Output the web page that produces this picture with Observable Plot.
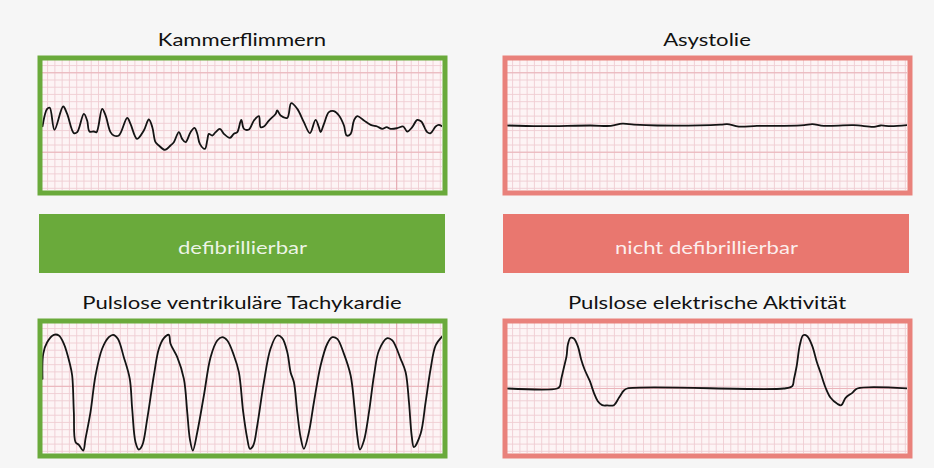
<!DOCTYPE html>
<html><head><meta charset="utf-8">
<script src="https://cdn.jsdelivr.net/npm/d3@7"></script>
<script src="https://cdn.jsdelivr.net/npm/@observablehq/plot@0.6"></script>
<style>
html,body{margin:0;padding:0;background:#f6f6f6;}
#root{position:relative;width:934px;height:468px;overflow:hidden;background:#f6f6f6;font-family:Lato,"Open Sans",sans-serif;}
.title{position:absolute;text-align:center;font-size:17px;line-height:17px;color:#111;transform:scaleX(1.3);transform-origin:center;white-space:nowrap;}
.panel{position:absolute;}
.panel svg{display:block;}
</style></head><body><div id="root"></div>
<script>
// Titles of the four ECG strips
const titles = ["Kammerflimmern", "Asystolie", "Pulslose ventrikuläre Tachykardie", "Pulslose elektrische Aktivität"];
// Labels of the two classification bars
const categories = ["defibrillierbar", "nicht defibrillierbar"];

// Traces: [time in small boxes, amplitude in small boxes]
const kammerflimmern = [
  [0,-0.1],[0.64,2.3],[1.0,2.45],[1.65,-0.6],[2.84,2.63],[3.39,1.6],[4.31,-1.06],[4.77,-0.92],
  [5.69,1.6],[6.14,0.69],[6.46,-0.83],[7.06,-0.83],[7.43,-0.92],[8.2,2.3],[8.67,1.39],[9.35,-0.92],
  [9.8,-1.39],[10.5,-1.39],[11.65,1.06],[12.1,0.23],[13.0,-1.85],[13.93,-0.69],[14.62,0.83],[15.1,-0.23],
  [15.54,-2.31],[16.0,-2.77],[16.83,-3.37],[17.6,-2.77],[18.06,-2.31],[18.75,-0.92],[19.2,-1.85],[19.67,-2.31],
  [20.36,-0.92],[20.9,-0.32],[21.28,-1.15],[21.64,-2.54],[22.33,-3.23],[22.65,-2.08],[22.88,-1.15],[23.34,-1.39],
  [23.8,-0.92],[24.39,-0.46],[24.94,-1.15],[25.77,-1.71],[26.32,-1.15],[26.78,-0.92],[27.33,0.78],[27.7,-0.46],
  [28.38,-0.55],[29.07,0.69],[29.75,1.29],[29.99,-0.23],[30.44,-0.14],[31.13,0.69],[32.05,1.6],[32.27,2.08],
  [32.74,1.39],[33.66,1.06],[34.2,3.09],[35.03,2.3],[35.94,0.46],[36.77,-1.06],[37.55,0.78],[38.0,-0.23],
  [38.24,-0.92],[38.7,0.23],[39.38,1.85],[40.07,1.99],[40.76,1.39],[41.45,0],[41.82,-1.39],[42.37,-1.15],
  [42.82,0.69],[43.28,1.29],[44.2,0.69],[45.12,0.09],[46.03,-0.14],[46.72,-0.46],[47.32,-0.23],[47.87,-0.46],
  [48.78,-0.37],[49.6,-0.14],[50.15,-0.83],[50.84,-0.23],[51.53,0.78],[52.08,0.55],[52.9,-0.92],[53.37,-1.06],
  [54.05,-0.14],[54.5,0.09],[55,-0.14]
];
const asystolie = [
  [0,0],[4.5,-0.1],[11.4,0],[14.2,-0.05],[15.8,0.25],[17.4,0.12],[20.6,0],[29.3,0.12],[30.2,0.2],
  [31.8,-0.15],[34.3,-0.05],[38.0,-0.05],[40.8,0.05],[41.9,0.2],[43.5,-0.05],[47.6,0.05],[50.4,-0.2],
  [51.3,0],[52.7,-0.1],[55,0.05]
];
const tachykardie = [
  [0,1.34],[0.1,4.8],[0.64,6.4],[1.56,7.43],[2.25,7.34],[2.93,6.2],[3.76,3.42],[4.08,1.8],[4.31,-3.28],
  [4.54,-7.43],[5.0,-7.8],[5.6,-8.59],[5.91,-6.97],[6.6,-3.28],[7.29,1.8],[8.2,5.5],[9.12,7.1],[9.72,7.43],
  [10.36,6.88],[11.18,4.34],[12.0,1.34],[12.33,-2.81],[12.79,-7.43],[13.25,-8.45],[13.71,-7.89],[14.4,-4.2],
  [15.31,1.8],[16.0,5.5],[16.69,6.97],[17.37,7.43],[17.6,6.2],[18.53,4.34],[19.44,1.34],[19.9,-3.28],
  [20.26,-6.97],[20.67,-8.59],[21.28,-6.05],[22.19,-0.97],[23.11,4.34],[24.03,6.65],[24.72,7.1],[25.41,6.65],
  [26.32,4.57],[27.0,2.26],[27.6,-3.28],[28.16,-6.97],[28.52,-8.35],[28.98,-7.89],[29.53,-5.12],[30.44,0.87],
  [31.35,5.5],[32.27,7.34],[32.96,6.97],[33.66,5.03],[34.11,2.26],[34.57,0.87],[35.03,-3.28],[35.49,-6.75],
  [35.94,-8.35],[36.63,-6.05],[37.32,-1.9],[38.24,3.19],[39.16,6.2],[39.85,7.1],[40.53,6.88],[41.45,4.8],
  [42.37,1.8],[42.92,-2.81],[43.28,-6.51],[43.65,-8.45],[44.2,-7.2],[44.89,-3.28],[45.58,1.8],[46.26,5.26],
  [47.41,6.97],[48.1,6.65],[49.24,4.11],[49.93,2.26],[50.39,-1.9],[50.76,-6.51],[51.07,-8.13],[51.99,-6.27],
  [52.68,-1.9],[53.37,2.73],[54.06,5.96],[55,7.24]
];
const pea = [
  [0,0],[6.83,0],[7.2,0.32],[7.38,1.25],[7.75,2.87],[8.12,4.48],[8.3,6.09],[8.67,7.02],[9.12,6.92],
  [9.67,5.86],[10.13,4.02],[10.6,2.63],[11.33,1.01],[11.88,-0.6],[12.42,-1.76],[13.02,-2.31],[13.71,-2.35],
  [14.63,-2.31],[15.32,-1.29],[16.0,-0.28],[16.46,0],[38.0,0],[39.16,0.32],[39.38,1.25],[39.75,3.05],
  [40.21,6.09],[40.67,7.38],[41.22,7.24],[41.91,5.86],[42.5,3.78],[43.05,2.17],[43.74,0.1],[44.43,-1.29],
  [45.35,-2.12],[45.9,-2.31],[46.49,-1.29],[47.41,-0.6],[48.1,0],[55,0]
];

const GREEN = "#6aaa3b", RED = "#e9817b", BAR_RED = "#e9776f";
const root = document.getElementById("root");

function addTitle(text, left, top) {
  const d = document.createElement("div");
  d.className = "title";
  d.style.left = left + "px"; d.style.top = top + "px"; d.style.width = "410px";
  d.textContent = text;
  root.appendChild(d);
}

function addPanel(series, color, majorX, majorY, left, top) {
  const svg = Plot.plot({
    width: 410, height: 140, margin: 5,
    x: {domain: [0, 55], axis: null},
    y: {domain: [-9, 9], axis: null},
    style: {background: "transparent", overflow: "visible"},
    marks: [
      Plot.frame({fill: "#fdf4f5", stroke: null}),
      Plot.ruleX(d3.range(0, 55).map(k => 0.7 + k), {stroke: "#efcdd2", strokeWidth: 0.9}),
      Plot.ruleY(d3.range(0, 18).map(k => 8.3 - k), {stroke: "#efcdd2", strokeWidth: 0.9}),
      Plot.ruleX(majorX, {stroke: "#e4a6ae", strokeWidth: 1}),
      Plot.ruleY(majorY, {stroke: "#eab4ba", strokeWidth: 1}),
      Plot.line(series, {x: d => d[0], y: d => d[1], curve: "catmull-rom", stroke: "#141414", strokeWidth: 1.8, clip: true}),
      Plot.frame({stroke: color, strokeWidth: 5, inset: -2.5})
    ]
  });
  const d = document.createElement("div");
  d.className = "panel";
  d.style.left = left + "px"; d.style.top = top + "px";
  d.appendChild(svg);
  root.appendChild(d);
}

addTitle(titles[0], 37, 31);
addTitle(titles[1], 502, 31);
addTitle(titles[2], 37, 294);
addTitle(titles[3], 502, 294);

addPanel(kammerflimmern, GREEN, [48.7], [7.3, -3.7], 37, 55);
addPanel(asystolie, RED, [], [7.3, -3.7], 502, 55);
addPanel(tachykardie, GREEN, [48.7], [0.3], 37, 318);
addPanel(pea, RED, [], [0], 502, 318);

// Classification bars
const bars = Plot.plot({
  width: 934, height: 59,
  marginLeft: 38, marginRight: 24, marginTop: 0, marginBottom: 0,
  x: {domain: categories, paddingInner: 0.1247, paddingOuter: 0, axis: null},
  color: {domain: categories, range: [GREEN, BAR_RED]},
  style: {background: "transparent"},
  marks: [
    Plot.cell(categories, {x: d => d, fill: d => d}),
    Plot.text(categories, {x: d => d, text: d => d, fill: "#ffffff", fillOpacity: 0.88, fontSize: 17, fontFamily: "Lato, sans-serif", dy: 5})
  ]
});
bars.querySelectorAll("text").forEach(t => {
  const tr = t.getAttribute("transform") || "";
  t.setAttribute("transform", tr + " scale(1.3,1)");
});
const bd = document.createElement("div");
bd.className = "panel";
bd.style.left = "0px"; bd.style.top = "214px";
bd.appendChild(bars);
root.appendChild(bd);
</script>
</body></html>
